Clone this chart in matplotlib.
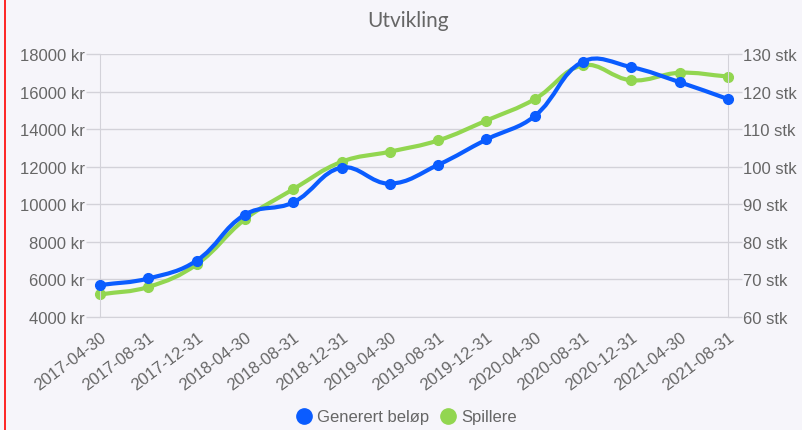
import numpy as np
import matplotlib
matplotlib.use('Agg')
import matplotlib.pyplot as plt
from matplotlib.path import Path
from matplotlib.patches import PathPatch
from matplotlib.lines import Line2D

# ---- data ----
dates = ['2017-04-30', '2017-08-31', '2017-12-31', '2018-04-30', '2018-08-31',
         '2018-12-31', '2019-04-30', '2019-08-31', '2019-12-31', '2020-04-30',
         '2020-08-31', '2020-12-31', '2021-04-30', '2021-08-31']
belop = [5700, 6050, 7000, 9450, 10100, 11950, 11100, 12100, 13450, 14700,
         17600, 17300, 16500, 15600]
spillere = [66, 68, 74, 86, 94, 101.3, 104, 107, 112.3, 118, 127, 123, 125, 124]
left_ticks = [4000, 6000, 8000, 10000, 12000, 14000, 16000, 18000]
right_ticks = [60, 70, 80, 90, 100, 110, 120, 130]
title = 'Utvikling'
series_names = ['Generert beløp', 'Spillere']

# ---- style ----
BG = '#f6f5fa'
BLUE = '#0a5cff'
GREEN = '#92d650'
GRID = '#d3d2d9'
TXT = '#666666'
FONT = ['Liberation Sans', 'DejaVu Sans']
plt.rcParams['font.family'] = FONT

W, H = 802, 431
fig = plt.figure(figsize=(W / 100, H / 100), dpi=100, facecolor=BG)
ax = fig.add_axes([100 / W, 113 / H, 628 / W, 263 / H])
ax.set_facecolor(BG)
ax2 = ax.twinx()

x = np.arange(len(dates))
ax.set_xlim(0, len(dates) - 1)
ax.set_ylim(left_ticks[0], left_ticks[-1])
ax2.set_ylim(right_ticks[0], right_ticks[-1])

for a in (ax, ax2):
    for s in a.spines.values():
        s.set_visible(False)

# grid lines (horizontal) and axis lines
ax.set_yticks(left_ticks)
ax.set_yticklabels([f'{v} kr' for v in left_ticks])
ax2.set_yticks(right_ticks)
ax2.set_yticklabels([f'{v} stk' for v in right_ticks])
ax.yaxis.grid(True, color=GRID, lw=1.0)
ax.set_axisbelow(True)
ax.spines['left'].set_visible(True)
ax.spines['left'].set_color(GRID)
ax.spines['right'].set_visible(True)
ax.spines['right'].set_color(GRID)
ax.spines['bottom'].set_visible(True)
ax.spines['bottom'].set_color(GRID)
ax.tick_params(axis='y', length=10, width=1, color=GRID, pad=1,
               labelsize=12, labelcolor=TXT)
ax2.tick_params(axis='y', length=10, width=1, color=GRID, pad=1,
                labelsize=12, labelcolor=TXT)
ax.set_xticks(x)
ax.set_xticklabels(dates, rotation=37, ha='right', va='top',
                   rotation_mode='anchor')
ax.tick_params(axis='x', length=0, pad=9, labelsize=12, labelcolor=TXT)


def spline_path(axis, xs, ys, tension=0.4):
    """Chart.js-style bezier spline through the points (computed in pixel space)."""
    fig.canvas.draw()
    pts = axis.transData.transform(np.column_stack([xs, ys]))
    n = len(pts)
    cp_prev = np.zeros_like(pts)
    cp_next = np.zeros_like(pts)
    for i in range(n):
        p0 = pts[i - 1] if i > 0 else pts[i]
        p1 = pts[i]
        p2 = pts[i + 1] if i < n - 1 else pts[i]
        d01 = np.hypot(*(p1 - p0))
        d12 = np.hypot(*(p2 - p1))
        tot = d01 + d12
        s01 = d01 / tot if tot else 0
        s12 = d12 / tot if tot else 0
        fa = tension * s01
        fb = tension * s12
        cp_prev[i] = p1 - fa * (p2 - p0)
        cp_next[i] = p1 + fb * (p2 - p0)
    verts = [pts[0]]
    codes = [Path.MOVETO]
    for i in range(n - 1):
        verts += [cp_next[i], cp_prev[i + 1], pts[i + 1]]
        codes += [Path.CURVE4] * 3
    inv = axis.transData.inverted()
    verts = inv.transform(np.array(verts))
    return Path(verts, codes)


ax.set_zorder(2)
ax2.set_zorder(1)
ax.patch.set_visible(False)
ax2.patch.set_visible(True)
ax2.patch.set_facecolor(BG)

# green (right axis) below, blue (left axis) on top
pg = spline_path(ax2, x, spillere)
ax2.add_patch(PathPatch(pg, fill=False, edgecolor=GREEN, lw=3.0, zorder=3,
                        capstyle='round', joinstyle='round'))
ax2.plot(x, spillere, 'o', color=GREEN, ms=7, zorder=4, clip_on=False)

pb = spline_path(ax, x, belop)
ax.add_patch(PathPatch(pb, fill=False, edgecolor=BLUE, lw=3.0, zorder=3,
                       capstyle='round', joinstyle='round'))
ax.plot(x, belop, 'o', color=BLUE, ms=7, zorder=4, clip_on=False)

# grid must be under green curve: draw horizontal grid on ax2 instead
ax.yaxis.grid(False)
ax2.yaxis.grid(True, color=GRID, lw=1.0)
ax2.set_axisbelow(True)

# title
fig.text(408 / W, 1 - 21 / H, title, ha='center', va='center',
         fontsize=15, color=TXT, family=['Lato', 'DejaVu Sans'])

# legend
handles = [Line2D([], [], ls='none', marker='o', ms=11, color=BLUE),
           Line2D([], [], ls='none', marker='o', ms=11, color=GREEN)]
leg = fig.legend(handles, series_names, loc='center', bbox_to_anchor=(406 / W, 1 - 418 / H),
                 ncol=2, frameon=False, handlelength=1.0, handletextpad=0.3,
                 columnspacing=0.6, fontsize=12, borderpad=0)
for t in leg.get_texts():
    t.set_color(TXT)

# red left border of the frame
fig.add_artist(Line2D([5 / W, 5 / W], [0, 1], color='#ff0000', lw=1.2))

fig.savefig('out.png', dpi=100, facecolor=BG)
